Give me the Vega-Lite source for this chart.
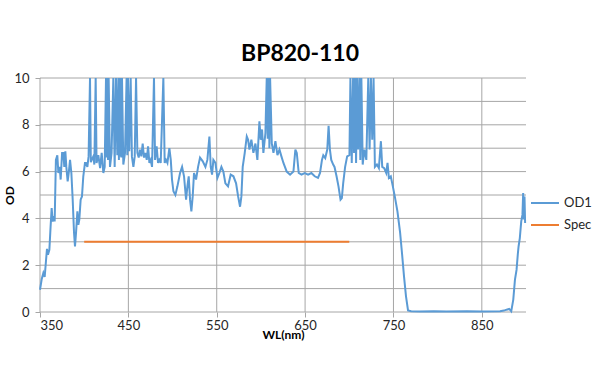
{
  "$schema": "https://vega.github.io/schema/vega-lite/v6.json",
  "width": 486,
  "height": 234,
  "autosize": {"type": "none"},
  "padding": {"left": 40, "top": 78, "right": 74, "bottom": 71},
  "background": "white",
  "title": {"text": "BP820-110", "anchor": "middle", "frame": "group", "dx": 17, "offset": 6, "fontSize": 23, "font": "Lato", "fontWeight": "bold", "color": "#000000"},
  "config": {
    "view": {"stroke": null},
    "axis": {"labelFont": "Lato", "labelFontSize": 13, "labelColor": "#262626", "titleFont": "Lato", "titleFontSize": 12, "titleFontWeight": "bold", "titleColor": "#000000", "tickColor": "#A6A6A6", "tickSize": 5}
  },
  "datasets": {
    "xgrid": [{"w":350},{"w":450},{"w":550},{"w":650},{"w":750},{"w":850}],
    "ygrid": [{"v":0},{"v":1},{"v":2},{"v":3},{"v":4},{"v":5},{"v":6},{"v":7},{"v":8},{"v":9},{"v":10}],
    "od": [
      {"w":350,"v":0.95,"s":"OD1"},{"w":351.9,"v":1.4,"s":"OD1"},{"w":353.8,"v":1.67,"s":"OD1"},{"w":355.3,"v":1.5,"s":"OD1"},{"w":356.8,"v":2.2,"s":"OD1"},{"w":357.9,"v":2.7,"s":"OD1"},{"w":359,"v":2.45,"s":"OD1"},{"w":360.6,"v":2.66,"s":"OD1"},{"w":362,"v":3.66,"s":"OD1"},{"w":363.2,"v":4.44,"s":"OD1"},{"w":364.3,"v":3.87,"s":"OD1"},{"w":365.5,"v":4.1,"s":"OD1"},{"w":366.6,"v":3.87,"s":"OD1"},{"w":368,"v":6.5,"s":"OD1"},{"w":369.6,"v":6.7,"s":"OD1"},{"w":370.8,"v":5.94,"s":"OD1"},{"w":372.3,"v":6.2,"s":"OD1"},{"w":373.4,"v":5.66,"s":"OD1"},{"w":375,"v":6.8,"s":"OD1"},{"w":376.4,"v":6.8,"s":"OD1"},{"w":377.5,"v":6.2,"s":"OD1"},{"w":378.7,"v":6.87,"s":"OD1"},{"w":379.8,"v":6.2,"s":"OD1"},{"w":381.3,"v":5.58,"s":"OD1"},{"w":382.5,"v":5.94,"s":"OD1"},{"w":384,"v":6.5,"s":"OD1"},{"w":385.5,"v":5.94,"s":"OD1"},{"w":387,"v":4.8,"s":"OD1"},{"w":388.5,"v":3.4,"s":"OD1"},{"w":389.6,"v":2.8,"s":"OD1"},{"w":390.8,"v":3.4,"s":"OD1"},{"w":392.3,"v":4.3,"s":"OD1"},{"w":393.4,"v":3.73,"s":"OD1"},{"w":394.5,"v":3.95,"s":"OD1"},{"w":396,"v":4.8,"s":"OD1"},{"w":397.5,"v":4.94,"s":"OD1"},{"w":399,"v":5.8,"s":"OD1"},{"w":400.9,"v":6.37,"s":"OD1"},{"w":402,"v":6.37,"s":"OD1"},{"w":403.6,"v":6.2,"s":"OD1"},{"w":405,"v":6.65,"s":"OD1"},{"w":406.6,"v":10,"s":"OD1"},{"w":407.5,"v":6.4,"s":"OD1"},{"w":408.5,"v":6.5,"s":"OD1"},{"w":410.4,"v":6.65,"s":"OD1"},{"w":411.5,"v":6.3,"s":"OD1"},{"w":413,"v":10,"s":"OD1"},{"w":414,"v":6.37,"s":"OD1"},{"w":416,"v":6.7,"s":"OD1"},{"w":418,"v":6.15,"s":"OD1"},{"w":419.8,"v":6.8,"s":"OD1"},{"w":421.7,"v":5.94,"s":"OD1"},{"w":423.2,"v":6.2,"s":"OD1"},{"w":424.7,"v":10,"s":"OD1"},{"w":425.5,"v":6.6,"s":"OD1"},{"w":426.2,"v":10,"s":"OD1"},{"w":427,"v":6.5,"s":"OD1"},{"w":427.7,"v":10,"s":"OD1"},{"w":429.2,"v":6.2,"s":"OD1"},{"w":431,"v":6.8,"s":"OD1"},{"w":433,"v":10,"s":"OD1"},{"w":434.5,"v":6.2,"s":"OD1"},{"w":436,"v":10,"s":"OD1"},{"w":437.5,"v":6.7,"s":"OD1"},{"w":438.7,"v":10,"s":"OD1"},{"w":439.3,"v":6.5,"s":"OD1"},{"w":439.8,"v":10,"s":"OD1"},{"w":440.5,"v":6.65,"s":"OD1"},{"w":441.3,"v":10,"s":"OD1"},{"w":442,"v":6.6,"s":"OD1"},{"w":442.8,"v":10,"s":"OD1"},{"w":444.3,"v":6.3,"s":"OD1"},{"w":446.2,"v":6.8,"s":"OD1"},{"w":448,"v":10,"s":"OD1"},{"w":448.8,"v":6.7,"s":"OD1"},{"w":449.6,"v":10,"s":"OD1"},{"w":451,"v":6.87,"s":"OD1"},{"w":452.6,"v":10,"s":"OD1"},{"w":454,"v":6.65,"s":"OD1"},{"w":455.7,"v":6.2,"s":"OD1"},{"w":457.2,"v":6.65,"s":"OD1"},{"w":458.7,"v":10,"s":"OD1"},{"w":460.2,"v":6.8,"s":"OD1"},{"w":461.7,"v":6.6,"s":"OD1"},{"w":463.2,"v":6.94,"s":"OD1"},{"w":464.7,"v":6.65,"s":"OD1"},{"w":466.2,"v":7.2,"s":"OD1"},{"w":467.7,"v":6.6,"s":"OD1"},{"w":469.2,"v":6.8,"s":"OD1"},{"w":470.8,"v":6.5,"s":"OD1"},{"w":472.3,"v":7.08,"s":"OD1"},{"w":473.8,"v":6.37,"s":"OD1"},{"w":475.3,"v":6.5,"s":"OD1"},{"w":476.8,"v":6.2,"s":"OD1"},{"w":479,"v":10,"s":"OD1"},{"w":480.2,"v":6.5,"s":"OD1"},{"w":482,"v":7.08,"s":"OD1"},{"w":483.6,"v":6.37,"s":"OD1"},{"w":485,"v":6.5,"s":"OD1"},{"w":486.6,"v":6.37,"s":"OD1"},{"w":489.6,"v":10,"s":"OD1"},{"w":491.1,"v":6.37,"s":"OD1"},{"w":492.6,"v":6.5,"s":"OD1"},{"w":494.2,"v":6.37,"s":"OD1"},{"w":496.4,"v":7.0,"s":"OD1"},{"w":498,"v":6.5,"s":"OD1"},{"w":499.4,"v":5.66,"s":"OD1"},{"w":501,"v":5.16,"s":"OD1"},{"w":503.2,"v":5.0,"s":"OD1"},{"w":505.5,"v":5.37,"s":"OD1"},{"w":508.5,"v":5.94,"s":"OD1"},{"w":510.8,"v":6.2,"s":"OD1"},{"w":513,"v":5.8,"s":"OD1"},{"w":515.3,"v":4.8,"s":"OD1"},{"w":516.8,"v":5.37,"s":"OD1"},{"w":518.3,"v":5.8,"s":"OD1"},{"w":519.8,"v":4.8,"s":"OD1"},{"w":521.3,"v":4.3,"s":"OD1"},{"w":522.8,"v":4.94,"s":"OD1"},{"w":524.3,"v":5.94,"s":"OD1"},{"w":526.6,"v":5.66,"s":"OD1"},{"w":528.9,"v":6.2,"s":"OD1"},{"w":531.1,"v":6.6,"s":"OD1"},{"w":534.2,"v":6.44,"s":"OD1"},{"w":537.2,"v":6.2,"s":"OD1"},{"w":539.4,"v":6.5,"s":"OD1"},{"w":541.7,"v":7.5,"s":"OD1"},{"w":543.2,"v":6.2,"s":"OD1"},{"w":544.7,"v":5.87,"s":"OD1"},{"w":546.2,"v":6.5,"s":"OD1"},{"w":548.5,"v":6.37,"s":"OD1"},{"w":550.8,"v":5.73,"s":"OD1"},{"w":553,"v":5.94,"s":"OD1"},{"w":555.3,"v":6.2,"s":"OD1"},{"w":557.5,"v":6.0,"s":"OD1"},{"w":559.8,"v":5.5,"s":"OD1"},{"w":562.8,"v":5.37,"s":"OD1"},{"w":565.8,"v":5.87,"s":"OD1"},{"w":568.9,"v":5.8,"s":"OD1"},{"w":571.9,"v":5.5,"s":"OD1"},{"w":574.2,"v":4.94,"s":"OD1"},{"w":576.4,"v":4.5,"s":"OD1"},{"w":577.9,"v":4.94,"s":"OD1"},{"w":579.4,"v":6.2,"s":"OD1"},{"w":581.7,"v":6.8,"s":"OD1"},{"w":584,"v":7.5,"s":"OD1"},{"w":585.5,"v":7.36,"s":"OD1"},{"w":587,"v":6.94,"s":"OD1"},{"w":589.2,"v":7.36,"s":"OD1"},{"w":591.5,"v":6.8,"s":"OD1"},{"w":593.8,"v":7.2,"s":"OD1"},{"w":596,"v":6.5,"s":"OD1"},{"w":598.3,"v":8.15,"s":"OD1"},{"w":599.8,"v":7.36,"s":"OD1"},{"w":601.3,"v":7.8,"s":"OD1"},{"w":602.8,"v":6.8,"s":"OD1"},{"w":605.1,"v":7.65,"s":"OD1"},{"w":606.6,"v":10,"s":"OD1"},{"w":607.7,"v":7.4,"s":"OD1"},{"w":608.9,"v":10,"s":"OD1"},{"w":609.6,"v":7.0,"s":"OD1"},{"w":610.4,"v":10,"s":"OD1"},{"w":612.3,"v":7.2,"s":"OD1"},{"w":614.2,"v":6.8,"s":"OD1"},{"w":616.4,"v":7.3,"s":"OD1"},{"w":618.7,"v":6.7,"s":"OD1"},{"w":621,"v":6.94,"s":"OD1"},{"w":623.2,"v":6.65,"s":"OD1"},{"w":625.5,"v":6.37,"s":"OD1"},{"w":629.2,"v":6.0,"s":"OD1"},{"w":633,"v":5.87,"s":"OD1"},{"w":636.8,"v":6.0,"s":"OD1"},{"w":639,"v":6.94,"s":"OD1"},{"w":640.6,"v":6.8,"s":"OD1"},{"w":642.8,"v":5.94,"s":"OD1"},{"w":645.9,"v":5.87,"s":"OD1"},{"w":649.6,"v":5.94,"s":"OD1"},{"w":653.4,"v":5.87,"s":"OD1"},{"w":657.1,"v":5.94,"s":"OD1"},{"w":660.9,"v":5.8,"s":"OD1"},{"w":664.6,"v":5.73,"s":"OD1"},{"w":666.9,"v":5.94,"s":"OD1"},{"w":669.1,"v":6.5,"s":"OD1"},{"w":670.6,"v":6.7,"s":"OD1"},{"w":672.8,"v":6.58,"s":"OD1"},{"w":675.1,"v":6.94,"s":"OD1"},{"w":676.6,"v":7.96,"s":"OD1"},{"w":678.1,"v":6.94,"s":"OD1"},{"w":679.6,"v":6.5,"s":"OD1"},{"w":681.8,"v":6.3,"s":"OD1"},{"w":683.3,"v":6.2,"s":"OD1"},{"w":685.6,"v":5.8,"s":"OD1"},{"w":687.8,"v":5.37,"s":"OD1"},{"w":690.1,"v":4.8,"s":"OD1"},{"w":691.6,"v":4.87,"s":"OD1"},{"w":693.1,"v":5.5,"s":"OD1"},{"w":695.3,"v":6.2,"s":"OD1"},{"w":697.6,"v":6.65,"s":"OD1"},{"w":700.2,"v":6.7,"s":"OD1"},{"w":701.3,"v":10,"s":"OD1"},{"w":702.8,"v":6.37,"s":"OD1"},{"w":704.3,"v":10,"s":"OD1"},{"w":705.4,"v":6.8,"s":"OD1"},{"w":706.6,"v":10,"s":"OD1"},{"w":707.7,"v":6.37,"s":"OD1"},{"w":708.8,"v":10,"s":"OD1"},{"w":710,"v":6.94,"s":"OD1"},{"w":711.4,"v":10,"s":"OD1"},{"w":712.5,"v":6.5,"s":"OD1"},{"w":713.7,"v":10,"s":"OD1"},{"w":715.2,"v":6.3,"s":"OD1"},{"w":717,"v":6.94,"s":"OD1"},{"w":719.3,"v":6.5,"s":"OD1"},{"w":721.5,"v":10,"s":"OD1"},{"w":723,"v":6.94,"s":"OD1"},{"w":724.5,"v":10,"s":"OD1"},{"w":726,"v":7.36,"s":"OD1"},{"w":727.5,"v":10,"s":"OD1"},{"w":729,"v":6.2,"s":"OD1"},{"w":731.3,"v":6.3,"s":"OD1"},{"w":733.5,"v":6.15,"s":"OD1"},{"w":735.8,"v":7.3,"s":"OD1"},{"w":737.3,"v":6.2,"s":"OD1"},{"w":739.5,"v":6.15,"s":"OD1"},{"w":741.8,"v":5.94,"s":"OD1"},{"w":743.3,"v":6.37,"s":"OD1"},{"w":744.8,"v":5.73,"s":"OD1"},{"w":747,"v":5.8,"s":"OD1"},{"w":749.3,"v":5.37,"s":"OD1"},{"w":751.5,"v":4.94,"s":"OD1"},{"w":754.5,"v":4.3,"s":"OD1"},{"w":757.5,"v":3.4,"s":"OD1"},{"w":759.7,"v":2.5,"s":"OD1"},{"w":762,"v":1.5,"s":"OD1"},{"w":764.2,"v":0.67,"s":"OD1"},{"w":766.5,"v":0.07,"s":"OD1"},{"w":770,"v":0.03,"s":"OD1"},{"w":780,"v":0.02,"s":"OD1"},{"w":795.7,"v":0.03,"s":"OD1"},{"w":810,"v":0.02,"s":"OD1"},{"w":833,"v":0.03,"s":"OD1"},{"w":850,"v":0.02,"s":"OD1"},{"w":870.6,"v":0.03,"s":"OD1"},{"w":875,"v":0.06,"s":"OD1"},{"w":878,"v":0.1,"s":"OD1"},{"w":881,"v":0.13,"s":"OD1"},{"w":883.3,"v":0.03,"s":"OD1"},{"w":885.6,"v":0.53,"s":"OD1"},{"w":887.5,"v":1.38,"s":"OD1"},{"w":889.3,"v":1.8,"s":"OD1"},{"w":890.8,"v":2.5,"s":"OD1"},{"w":891.6,"v":2.8,"s":"OD1"},{"w":893,"v":3.16,"s":"OD1"},{"w":894.6,"v":3.87,"s":"OD1"},{"w":896,"v":4.16,"s":"OD1"},{"w":896.8,"v":5.08,"s":"OD1"},{"w":897.5,"v":3.95,"s":"OD1"},{"w":898.3,"v":4.94,"s":"OD1"},{"w":899,"v":3.8,"s":"OD1"},
      {"w":400,"v":3,"s":"Spec"},{"w":700,"v":3,"s":"Spec"}
    ]
  },
  "layer": [
    {
      "data": {"name": "xgrid"},
      "mark": {"type": "rule", "color": "#A6A6A6", "strokeWidth": 1},
      "encoding": {"x": {"field": "w", "type": "quantitative", "scale": {"domain": [350, 900], "nice": false, "zero": false}}}
    },
    {
      "data": {"name": "ygrid"},
      "mark": {"type": "rule", "color": "#A6A6A6", "strokeWidth": 1},
      "encoding": {"y": {"field": "v", "type": "quantitative", "scale": {"domain": [0, 10], "nice": false}}}
    },
    {
      "data": {"name": "od"},
      "mark": {"type": "line", "strokeWidth": 2},
      "encoding": {
        "x": {"field": "w", "type": "quantitative", "scale": {"domain": [350, 900], "nice": false, "zero": false}, "axis": {"values": [350, 450, 550, 650, 750, 850], "grid": false, "domain": false, "ticks": true, "title": "WL(nm)", "labelPadding": 2, "titlePadding": -3}},
        "y": {"field": "v", "type": "quantitative", "scale": {"domain": [0, 10], "nice": false}, "axis": {"values": [0,1,2,3,4,5,6,7,8,9,10], "grid": false, "domain": false, "ticks": true, "title": "OD", "labelPadding": 6, "titleX": -31, "titleY": 117, "titleBaseline": "middle", "titleAlign": "center", "titleAngle": -90}},
        "color": {"field": "s", "type": "nominal", "scale": {"domain": ["OD1", "Spec"], "range": ["#5B9BD5", "#ED7D31"]},
          "legend": {"title": null, "orient": "none", "legendX": 490, "legendY": 110, "symbolType": "stroke", "symbolSize": 784, "symbolStrokeWidth": 2, "labelFont": "Lato", "labelFontSize": 13, "labelColor": "#262626", "labelOffset": 4, "rowPadding": -3}
        }
      }
    }
  ]
}
